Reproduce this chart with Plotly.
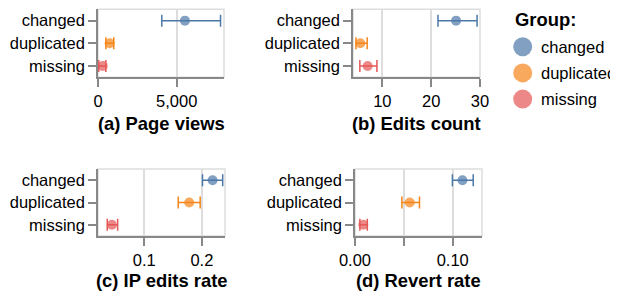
import plotly.graph_objects as go

groups = ["changed", "duplicated", "missing"]
colors = ["#4c78a8", "#f58518", "#e45756"]

page_views_mean = [5520, 740, 300]
page_views_lo = [4050, 500, 50]
page_views_hi = [7780, 1000, 500]

edits_mean = [25.1, 5.5, 7.0]
edits_lo = [21.4, 4.6, 5.4]
edits_hi = [29.4, 6.9, 8.9]

ip_mean = [0.2185, 0.178, 0.044]
ip_lo = [0.201, 0.159, 0.036]
ip_hi = [0.236, 0.197, 0.054]

revert_mean = [0.110, 0.056, 0.0085]
revert_lo = [0.0997, 0.048, 0.005]
revert_hi = [0.121, 0.066, 0.0126]

panel_titles = ["(a) Page views", "(b) Edits count", "(c) IP edits rate", "(d) Revert rate"]
x_tickvals = [[0, 5000], [10, 20, 30], [0.1, 0.2], [0, 0.05, 0.1]]
x_ticktext = [["0", "5,000"], ["10", "20", "30"], ["0.1", "0.2"], ["0.00", "", "0.10"]]
legend_title = "Group:"

panels = [
    (page_views_mean, page_views_lo, page_views_hi),
    (edits_mean, edits_lo, edits_hi),
    (ip_mean, ip_lo, ip_hi),
    (revert_mean, revert_lo, revert_hi),
]

# the page body has an 8px default margin, so the figure is 8px smaller and positions shifted
OX, OY = 8, 8
W, H = 618 - OX, 291 - OY
FONT = "Liberation Sans, Arial, Helvetica, sans-serif"


def fx(px):
    return (px - OX) / W


def fy(py):
    return 1 - (py - OY) / H


# window-pixel domains (x0, x1, ytop, ybottom)
px_dom = [
    (98, 224, 9.3, 77.3),
    (353, 480, 9.3, 77.3),
    (98, 225, 169, 236),
    (355, 482, 169, 236),
]
x_ranges = [[0, 8000], [4, 30], [0.02, 0.24], [0, 0.13]]

fig = go.Figure()
layout = {}
shapes = []
annotations = []

for p, (mean, lo, hi) in enumerate(panels):
    ax = "" if p == 0 else str(p + 1)
    for g, grp in enumerate(groups):
        fig.add_trace(go.Scatter(
            x=[mean[g]], y=[grp], mode="markers", name=grp,
            legendgroup=grp, showlegend=False,
            xaxis="x" + ax, yaxis="y" + ax,
            marker=dict(color=colors[g], opacity=0.7, size=10, line=dict(width=0)),
            error_x=dict(type="data", symmetric=False,
                         array=[hi[g] - mean[g]], arrayminus=[mean[g] - lo[g]],
                         color=colors[g], thickness=1.5, width=6),
        ))
    x0, x1, yt, yb = px_dom[p]
    layout["xaxis" + ax] = dict(
        domain=[fx(x0), fx(x1)], range=x_ranges[p], anchor="y" + ax,
        tickvals=x_tickvals[p], ticktext=x_ticktext[p],
        showline=True, linecolor="#888", linewidth=1.5,
        ticks="outside", ticklen=8, tickwidth=1.5, tickcolor="#888",
        showgrid=True, gridcolor="#ddd", gridwidth=1.5, zeroline=False,
        automargin=False,
        tickfont=dict(size=16.5, color="black", family=FONT),
    )
    layout["yaxis" + ax] = dict(
        domain=[fy(yb), fy(yt)], anchor="x" + ax,
        type="category", categoryorder="array", categoryarray=groups,
        range=[2.5, -0.5], automargin=False,
        showline=True, linecolor="#888", linewidth=1.5,
        ticks="outside", ticklen=8, tickwidth=1.5, tickcolor="#888",
        showgrid=False, zeroline=False,
        tickfont=dict(size=16.5, color="black", family=FONT),
    )
    shapes.append(dict(type="rect", xref="x" + ax + " domain", yref="y" + ax + " domain",
                       x0=0, x1=1, y0=0, y1=1, line=dict(color="#ddd", width=1.5),
                       layer="below"))
    ty = 123 if p < 2 else 280
    annotations.append(dict(text="<b>" + panel_titles[p] + "</b>", xref="paper", yref="paper",
                            x=fx((x0 + x1) / 2), y=fy(ty), xanchor="center", yanchor="middle",
                            showarrow=False, font=dict(size=18.4, color="black", family=FONT)))

# custom legend
annotations.append(dict(text="<b>" + legend_title + "</b>", xref="paper", yref="paper",
                        x=fx(513), y=fy(19.5), xanchor="left", yanchor="middle",
                        showarrow=False, font=dict(size=18.4, color="black", family=FONT)))
for g, grp in enumerate(groups):
    cy = 46.7 + g * 26.2
    cx = 522.7
    r = 9.5
    shapes.append(dict(type="circle", xref="paper", yref="paper",
                       x0=fx(cx - r), x1=fx(cx + r), y0=fy(cy + r), y1=fy(cy - r),
                       fillcolor=colors[g], opacity=0.7, line=dict(width=0)))
    annotations.append(dict(text=grp, xref="paper", yref="paper",
                            x=fx(539), y=fy(cy), xanchor="left", yanchor="middle",
                            showarrow=False, font=dict(size=16.5, color="black", family=FONT)))

fig.update_layout(
    width=W, height=H,
    margin=dict(l=0, r=0, t=0, b=0, autoexpand=False),
    paper_bgcolor="white", plot_bgcolor="white",
    font=dict(family=FONT, color="black"),
    shapes=shapes, annotations=annotations,
    showlegend=False,
    **layout,
)

fig.write_html("out.html")
